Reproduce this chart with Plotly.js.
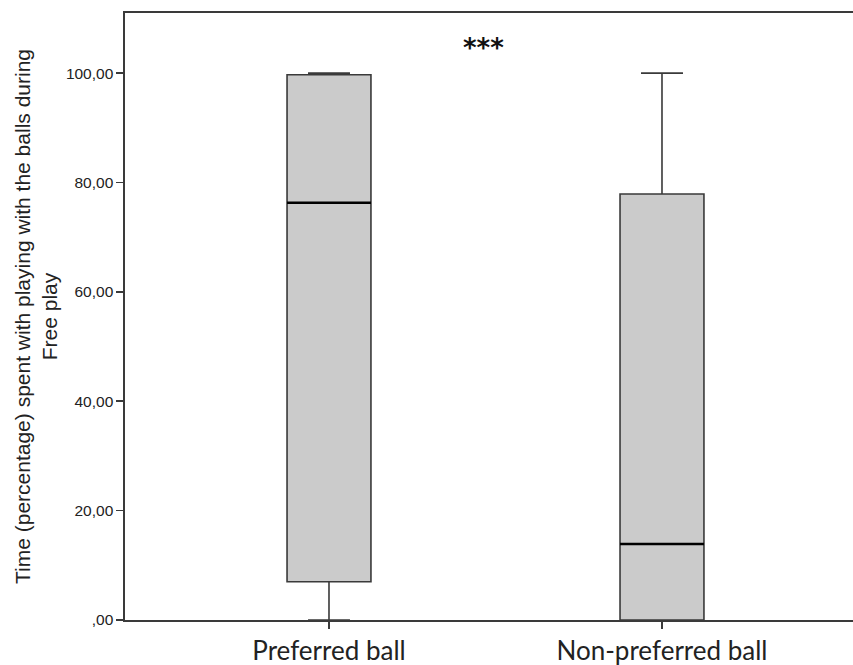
<!DOCTYPE html>
<html>
<head>
<meta charset="utf-8">
<script src="https://cdn.plot.ly/plotly-3.0.1.min.js"></script>
<style>html,body{margin:0;padding:0;background:#fff;}#chart{width:853px;height:665px;}</style>
</head>
<body>
<div id="chart"></div>
<script>
// Data
const categories = ["Preferred ball", "Non-preferred ball"];
const lowerFence = [0, 0];
const q1 = [7.0, 0];
const median = [76.3, 13.9];
const q3 = [99.7, 77.9];
const upperFence = [100, 100];
const yTickVals = [0, 20, 40, 60, 80, 100];
const yTickText = [",00", "20,00", "40,00", "60,00", "80,00", "100,00"];
const significance = "***";

const idx = categories.map((c, i) => i);
const boxWidth = 0.252;

const trace = {
  type: "box",
  x: idx,
  q1: q1,
  median: median,
  q3: q3,
  lowerfence: lowerFence,
  upperfence: upperFence,
  width: boxWidth,
  whiskerwidth: 0.5,
  fillcolor: "#cbcbcb",
  line: {color: "#3a3a3a", width: 1.6},
  boxpoints: false,
  hoverinfo: "skip",
  showlegend: false
};

const shapes = idx.map(i => ({
  type: "line", xref: "x", yref: "y",
  x0: i - boxWidth / 2, x1: i + boxWidth / 2,
  y0: median[i], y1: median[i],
  line: {color: "#000", width: 2.6}
}));

const layout = {
  width: 853, height: 665,
  margin: {l: 125, r: 0, t: 13, b: 45},
  paper_bgcolor: "#fff", plot_bgcolor: "#fff",
  showlegend: false,
  xaxis: {
    range: [-0.6126, 1.5736],
    tickmode: "array", tickvals: idx, ticktext: categories,
    ticks: "outside", ticklen: 7, tickwidth: 1.6, tickcolor: "#3a3a3a",
    showline: true, linecolor: "#3a3a3a", linewidth: 1.6, mirror: true,
    showgrid: false, zeroline: false,
    tickfont: {family: "Lato, 'Open Sans', sans-serif", size: 26, color: "#222"}
  },
  yaxis: {
    range: [0, 111],
    tickmode: "array", tickvals: yTickVals, ticktext: yTickText,
    ticks: "outside", ticklen: 7, tickwidth: 1.6, tickcolor: "#3a3a3a",
    showline: true, linecolor: "#3a3a3a", linewidth: 1.6,
    showgrid: false, zeroline: false,
    tickfont: {family: "Arial, 'Liberation Sans', sans-serif", size: 15.5, color: "#222"},
    title: {
      text: "Time (percentage) spent with playing with the balls during<br>Free play",
      font: {family: "Arial, 'Liberation Sans', sans-serif", size: 21, color: "#222"},
      standoff: 2
    }
  },
  shapes: shapes,
  annotations: [{
    x: 0.465, y: 104.6, xref: "x", yref: "y",
    text: "<b>" + significance + "</b>", showarrow: false,
    font: {family: "'DejaVu Sans', sans-serif", size: 26, color: "#111"},
    xanchor: "center", yanchor: "middle"
  }]
};

Plotly.newPlot("chart", [trace], layout, {displayModeBar: false, staticPlot: true});
</script>
</body>
</html>
